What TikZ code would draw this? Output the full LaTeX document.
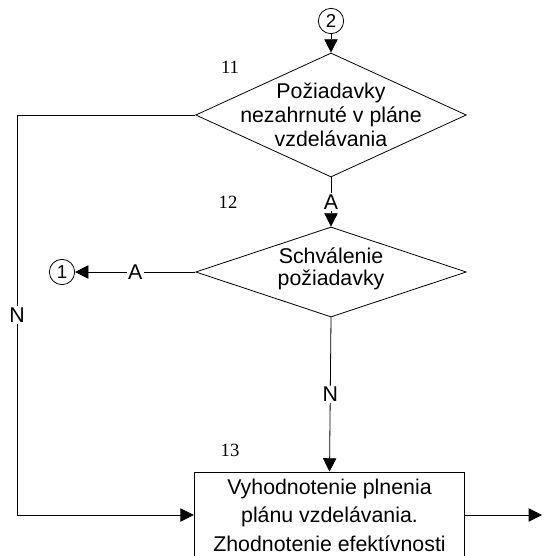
\documentclass[tikz,border=0pt]{standalone}
\usepackage{fontspec}
\setmainfont{Liberation Sans}
\newfontfamily\numfont{Liberation Serif}
\usetikzlibrary{shapes.geometric,arrows.meta}

\begin{document}
\begin{tikzpicture}[x=0.75pt,y=-0.75pt,line width=0.6pt,
	>={Triangle[length=10pt,width=10pt]},
	decision/.style={diamond,draw,inner sep=0pt,minimum width=203pt},
	conn/.style={circle,draw,inner sep=0pt,minimum size=19pt,font=\fontsize{14}{14}\selectfont},
	lbl/.style={fill=white,inner sep=1pt,font=\fontsize{16}{16}\selectfont},
	num/.style={font=\numfont\fontsize{14}{14}\selectfont}]
	\clip (0,0) rectangle (547,556);
		\node[conn] (c2) at (331,21) {2};
		\node[decision,minimum height=93pt,label={[align=center,font=\fontsize{16}{18}\selectfont]center:Požiadavky\\nezahrnuté v pláne\\vzdelávania}] (d1) at (331,115) {};
		\node[decision,minimum height=67.5pt,label={[align=center,font=\fontsize{16}{16.5}\selectfont,yshift=2pt]center:Schválenie\\požiadavky}] (d2) at (331,272) {};
		\node[conn] (c1) at (62,272) {1};
		\node[draw,minimum width=203pt,minimum height=64.5pt,align=center,font=\fontsize{16}{21.4}\selectfont] (b) at (329.5,515) {Vyhodnotenie plnenia\\plánu vzdelávania.\\Zhodnotenie efektívnosti};
		\node[num] (n11) at (230,67) {11};
		\node[num] (n12) at (228,202) {12};
		\node[num] (n13) at (230,450) {13};
		\coordinate (k0) at (17,115);
		\coordinate (k1) at (17,515);
		\coordinate (out) at (542,515);
	%	connectors
		\draw[->] (c2) -- (d1.north);
		\draw[->] (d1.south) -- node[lbl]{A} (d2.north);
		\draw[->] (d2.west) -- node[lbl]{A} (c1);
		\draw[->] (d2.south) -- node[lbl]{N} (b.north);
		\draw[->] (d1.west) -- (k0) -- node[lbl]{N} (k1) -- (b.west);
		\draw[->] (b.east) -- (out);
\end{tikzpicture}
\end{document}
